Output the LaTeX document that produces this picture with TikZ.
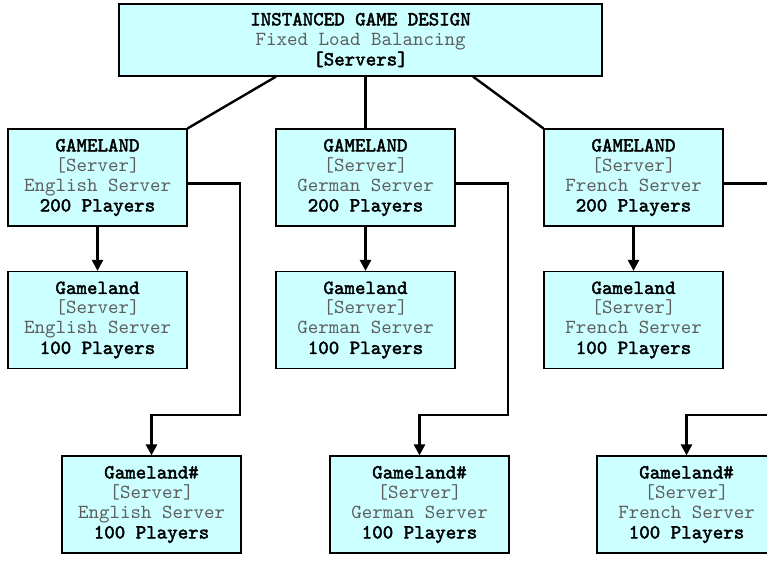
\documentclass[tikz,border=0pt]{standalone}
\usepackage{fontspec}
\setmonofont{lmmono10-regular.otf}[BoldFont=lmmono10-regular.otf,BoldFeatures={FakeBold=2.2}]
\usetikzlibrary{arrows.meta}
\definecolor{boxcyan}{HTML}{CCFFFF}
\definecolor{dimgray}{HTML}{5E5E5E}
\newcommand{\dimtxt}[1]{\textcolor{dimgray}{#1}}
\tikzset{
  serverbox/.style={draw=black,line width=1.2pt,fill=boxcyan,align=center,
    minimum width=179pt,minimum height=97pt,inner sep=0pt,
    font=\ttfamily\fontsize{20}{20}\selectfont},
  link/.style={line width=2.4pt},
  feed/.style={line width=2.4pt,-{Triangle[length=11pt,width=11pt]}}
}
\begin{document}
\begin{tikzpicture}[x=1pt,y=-1pt]
            \useasboundingbox (0,0) rectangle (767,566);
            \clip (0,0) rectangle (767,566);
            % top
            \node[serverbox,minimum width=483pt,minimum height=72pt] (design) at (360.5,40)
                {\textbf{INSTANCED GAME DESIGN}\\\dimtxt{Fixed Load Balancing}\\\textbf{[Servers]}};
            % main servers
            \node[serverbox] (eng) at (97.5,177.5)
                {\textbf{GAMELAND}\\\dimtxt{[Server]}\\\dimtxt{English Server}\\\textbf{200 Players}};
            \node[serverbox] (ger) at (365.5,177.5)
                {\textbf{GAMELAND}\\\dimtxt{[Server]}\\\dimtxt{German Server}\\\textbf{200 Players}};
            \node[serverbox] (fre) at (633.5,177.5)
                {\textbf{GAMELAND}\\\dimtxt{[Server]}\\\dimtxt{French Server}\\\textbf{200 Players}};
            % split servers
            \node[serverbox] (engsub) at (97.5,320)
                {\textbf{Gameland}\\\dimtxt{[Server]}\\\dimtxt{English Server}\\\textbf{100 Players}};
            \node[serverbox] (gersub) at (365.5,320)
                {\textbf{Gameland}\\\dimtxt{[Server]}\\\dimtxt{German Server}\\\textbf{100 Players}};
            \node[serverbox] (fresub) at (633.5,320)
                {\textbf{Gameland}\\\dimtxt{[Server]}\\\dimtxt{French Server}\\\textbf{100 Players}};
            \node[serverbox] (engdup) at (151.5,504.5)
                {\textbf{Gameland\#}\\\dimtxt{[Server]}\\\dimtxt{English Server}\\\textbf{100 Players}};
            \node[serverbox] (gerdup) at (419.5,504.5)
                {\textbf{Gameland\#}\\\dimtxt{[Server]}\\\dimtxt{German Server}\\\textbf{100 Players}};
            \node[serverbox] (fredup) at (686.5,504.5)
                {\textbf{Gameland\#}\\\dimtxt{[Server]}\\\dimtxt{French Server}\\\textbf{100 Players}};
            % links from the top
            \draw[link] ([xshift=-84.5pt]design.south) -- (eng.north east);
            \draw[link] (ger.north) -- (ger.north |- design.south);
            \draw[link] ([xshift=112.5pt]design.south) -- (fre.north west);
            \draw[feed] (eng) -- (engsub);
            \draw[feed] (ger) -- (gersub);
            \draw[feed] (fre) -- (fresub);
            \coordinate (engbend) at (240,415);
            \coordinate (gerbend) at (508,415);
            \coordinate (frebend) at (776,415);
            \draw[feed] ([yshift=-6pt]eng.east) -| (engbend) -| (engdup.north);
            \draw[feed] ([yshift=-6pt]ger.east) -| (gerbend) -| (gerdup.north);
            \draw[feed] ([yshift=-6pt]fre.east) -| (frebend) -| (fredup.north);
\end{tikzpicture}
\end{document}
